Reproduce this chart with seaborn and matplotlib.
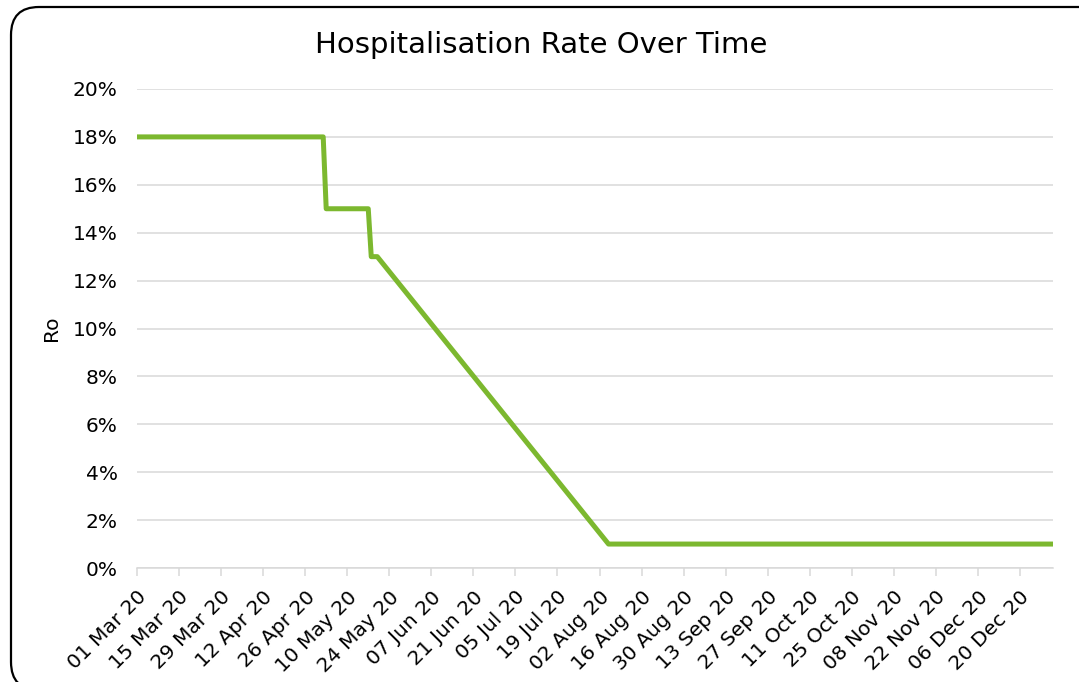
import pandas as pd
import matplotlib
matplotlib.use("Agg")
from matplotlib import pyplot as plt
from matplotlib.patches import FancyBboxPatch
from matplotlib.ticker import PercentFormatter
from matplotlib.transforms import IdentityTransform
import matplotlib.dates as mdates
import seaborn as sns

# breakpoints of the hospitalisation rate
dates = ["2020-03-01", "2020-05-02", "2020-05-03", "2020-05-17",
         "2020-05-18", "2020-05-20", "2020-08-05", "2020-12-31"]
rates = [0.18, 0.18, 0.15, 0.15, 0.13, 0.13, 0.01, 0.01]

tick_start = "2020-03-01"
tick_end = "2020-12-20"

df = pd.DataFrame({"date": pd.to_datetime(dates), "rate": rates})

sns.set_style("white")
plt.rcParams["font.family"] = ["DejaVu Sans"]
plt.rcParams["text.color"] = "black"
plt.rcParams["axes.labelcolor"] = "black"

fig = plt.figure(figsize=(10.79, 6.82), dpi=100)
ax = fig.add_axes([137 / 1079, 1 - 568 / 682, (1053 - 137) / 1079, (568 - 89) / 682])

sns.lineplot(data=df, x="date", y="rate", color="#7cb82f", linewidth=3.6, ax=ax)

ax.set_xlim(pd.Timestamp("2020-03-01"), pd.Timestamp("2020-12-31"))
ax.set_ylim(0, 0.20)
ax.set_yticks([i / 100 for i in range(0, 21, 2)])
ax.yaxis.set_major_formatter(PercentFormatter(xmax=1, decimals=0))

xt = pd.date_range(tick_start, tick_end, freq="14D")
ax.set_xticks(xt)
ax.xaxis.set_major_formatter(mdates.DateFormatter("%d %b %y"))

ax.grid(axis="y", color="#d9d9d9", linewidth=1.1)
ax.set_axisbelow(True)
for s in ["top", "right", "left"]:
    ax.spines[s].set_visible(False)
ax.spines["bottom"].set_color("#d9d9d9")
ax.spines["bottom"].set_linewidth(1.1)
ax.tick_params(axis="x", direction="out", length=6, width=1.1, color="#d9d9d9",
               labelsize=14.5, pad=8, bottom=True, labelcolor="black")
ax.tick_params(axis="y", length=0, labelsize=14.5, pad=14, left=False,
               labelcolor="black")
for lbl in ax.get_xticklabels():
    lbl.set_rotation(45)
    lbl.set_ha("right")
    lbl.set_rotation_mode("anchor")

ax.set_xlabel("")
ax.set_ylabel("Ro", fontsize=14.5, color="black")
ax.yaxis.set_label_coords(-0.083, 0.5)

fig.text(0.502, 0.934, "Hospitalisation Rate Over Time", ha="center", va="center",
         fontsize=21, color="black")

border = FancyBboxPatch((11, -8), 1100, 683,
                        boxstyle="round,pad=0,rounding_size=28",
                        transform=IdentityTransform(), fill=False,
                        edgecolor="black", linewidth=1.6)
fig.patches.append(border)

fig.savefig("out.png", dpi=100)
